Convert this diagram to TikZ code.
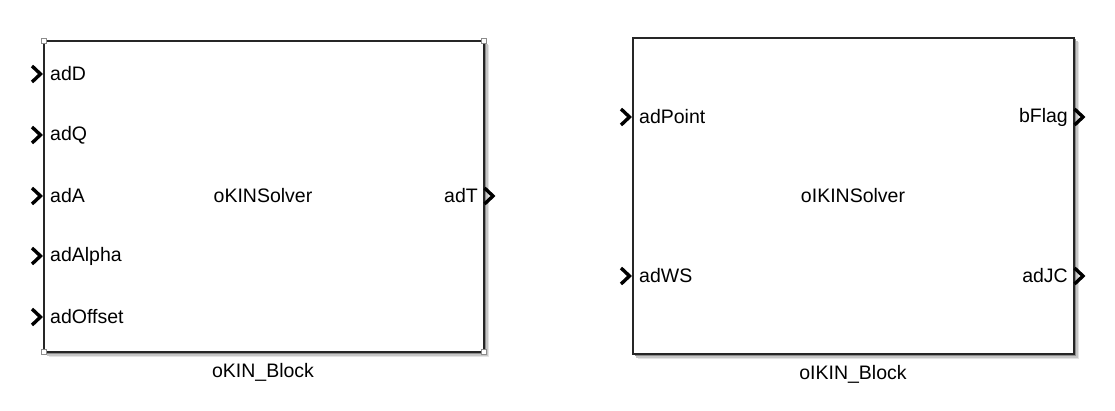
\documentclass[tikz,border=0pt]{standalone}
\usepackage{fontspec}
\setmainfont{Liberation Sans}
\begin{document}
\begin{tikzpicture}[x=1pt,y=-1pt,
  blk/.style={draw=black!85,line width=1.3pt,fill=white,rectangle,inner sep=0pt},
  lbl/.style={font=\fontsize{19.5}{22}\selectfont,inner sep=0pt},
  inport/.style={line width=3.4pt,line cap=butt,line join=miter},
  handle/.style={draw=black!45,fill=white,line width=0.6pt,minimum size=5pt,inner sep=0pt,rectangle}]
\useasboundingbox (0,0) rectangle (1115,411);
% shadows
\foreach \d/\c in {1.5/black!45,3/black!22,4.5/black!10}{
  \draw[\c,line width=1.5pt] (484+\d,41+\d) -- (484+\d,352+\d) -- (44+\d,352+\d);
  \draw[\c,line width=1.5pt] (1074+\d,38+\d) -- (1074+\d,354+\d) -- (633+\d,354+\d);
}
% block 1
\node[blk,minimum width=440pt,minimum height=311pt] (b1) at (264,196.5) {};
\node[lbl] (b1c) at (263,196) {oKINSolver};
\node[lbl] (b1n) at (263,372) {oKIN\_Block};
\foreach \n/\y in {adD/74,adQ/135,adA/196,adAlpha/256,adOffset/317}{
  \draw[inport] (32,\y-8) -- (40.5,\y) -- (32,\y+8);
  \node[lbl,anchor=west] (in\n) at (50,\y) {\n};
}
\draw[inport] (484.5,188) -- (493,196) -- (484.5,204);
\node[lbl,anchor=east] (outadT) at (478,196) {adT};
\foreach \p/\q in {44/41,484/41,44/352,484/352}
  \node[handle] at (\p,\q) {};
% block 2
\node[blk,minimum width=441pt,minimum height=316pt] (b2) at (853.5,196) {};
\node[lbl] (b2c) at (853,196) {oIKINSolver};
\node[lbl] (b2n) at (853,374) {oIKIN\_Block};
\foreach \n/\y in {adPoint/117,adWS/276}{
  \draw[inport] (621,\y-8) -- (629.5,\y) -- (621,\y+8);
  \node[lbl,anchor=west] (in\n) at (639,\y) {\n};
}
\foreach \n/\y in {bFlag/117,adJC/276}{
  \draw[inport] (1074.5,\y-8) -- (1083,\y) -- (1074.5,\y+8);
  \node[lbl,anchor=east] (out\n) at (1068,\y) {\n};
}
\end{tikzpicture}
\end{document}
